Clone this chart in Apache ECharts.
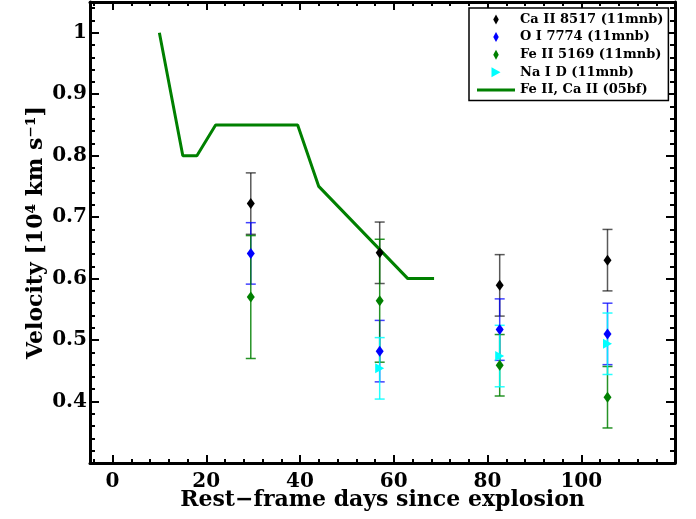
<!DOCTYPE html>
<html>
<head>
<meta charset="utf-8">
<script src="https://cdn.jsdelivr.net/npm/echarts@6/dist/echarts.min.js"></script>
<style>
html,body{margin:0;padding:0;background:#fff}
#chart{width:696px;height:519px}
</style>
</head>
<body>
<div id="chart"></div>
<script>
// epochs (rest-frame days) and velocities in 10^4 km/s
var days = [29.5, 57, 82.6, 105.6];
var caVel = [0.722, 0.642, 0.589, 0.630];
var caErr = [0.05, 0.05, 0.05, 0.05];
var oVel = [0.641, 0.482, 0.517, 0.510];
var oErr = [0.05, 0.05, 0.05, 0.05];
var feVel = [0.570, 0.564, 0.459, 0.407];
var feErr = [0.10, 0.10, 0.05, 0.05];
var naDays = [57, 82.6, 105.6];
var naVel = [0.454, 0.474, 0.494];
var naErr = [0.05, 0.05, 0.05];
// 05bf comparison curve
var bfDays = [10, 15, 18, 22, 39.5, 44, 63, 68.6];
var bfVel = [1.0, 0.8, 0.8, 0.85, 0.85, 0.75, 0.6, 0.6];
// ticks
var xMajor = [0, 20, 40, 60, 80, 100];
var xMinor = [-4, 4, 8, 12, 16, 24, 28, 32, 36, 44, 48, 52, 56, 64, 68, 72, 76, 84, 88, 92, 96, 104, 108, 112, 116];

var FONT = 'DejaVu Serif';
var diamondIcon = 'path://M0,-10L5.5,0L0,10L-5.5,0Z';
var triIcon = 'path://M0,0L9,5L0,10Z';
var lineIcon = 'path://M0,0H38V3H0Z';
var GRID = { left: 90, right: 21, top: 2, bottom: 56, outerBoundsMode: 'none' };

function pairs(xs, ys) {
  return xs.map(function (x, i) { return [x, ys[i]]; });
}

function errorBars(name, xs, vs, es, color) {
  return {
    type: 'custom',
    name: name,
    silent: true,
    z: 2,
    data: xs.map(function (x, i) { return [x, vs[i] - es[i], vs[i] + es[i]]; }),
    encode: { x: 0, y: [1, 2] },
    renderItem: function (params, api) {
      var lo = api.coord([api.value(0), api.value(1)]);
      var hi = api.coord([api.value(0), api.value(2)]);
      var w = 5;
      var st = { stroke: color, lineWidth: 1.5 };
      return {
        type: 'group',
        children: [
          { type: 'line', shape: { x1: hi[0], y1: hi[1], x2: lo[0], y2: lo[1] }, style: st },
          { type: 'line', shape: { x1: hi[0] - w, y1: hi[1], x2: hi[0] + w, y2: hi[1] }, style: st },
          { type: 'line', shape: { x1: lo[0] - w, y1: lo[1], x2: lo[0] + w, y2: lo[1] }, style: st }
        ]
      };
    }
  };
}

function blank() { return ''; }

function xAx(pos, ticks, len, show, grid) {
  return {
    type: 'value', position: pos, min: -4.8, max: 120, gridIndex: grid,
    axisLine: { show: show, onZero: false, lineStyle: { color: '#000', width: 3 } },
    axisTick: { show: true, inside: true, length: len, customValues: ticks, lineStyle: { color: '#000', width: 2 } },
    axisLabel: { show: true, customValues: ticks, formatter: blank },
    splitLine: { show: false }
  };
}

function yAx(pos) {
  return {
    type: 'value', position: pos, min: 0.3, max: 1.05, interval: 0.1,
    axisLine: { show: true, onZero: false, lineStyle: { color: '#000', width: 3 } },
    axisTick: { show: true, inside: true, length: 9, lineStyle: { color: '#000', width: 2 } },
    minorTick: { show: true, splitNumber: 5, length: 5, lineStyle: { color: '#000', width: 2 } },
    axisLabel: { show: true, formatter: blank, showMinLabel: false, showMaxLabel: false },
    splitLine: { show: false }
  };
}

var xMain = xAx('bottom', xMajor, 8, true, 0);
xMain.axisLabel = {
  show: true, customValues: xMajor, margin: 9,
  color: '#000', fontFamily: FONT, fontWeight: 'bold', fontSize: 20
};
xMain.name = 'Rest\u2212frame days since explosion';
xMain.nameLocation = 'middle';
xMain.nameGap = 26;
xMain.nameMoveOverlap = false;
xMain.nameTextStyle = { color: '#000', fontFamily: FONT, fontWeight: 'bold', fontSize: 22 };

var yMain = yAx('left');
yMain.axisLabel = {
  show: true, margin: 3, showMinLabel: false, showMaxLabel: false,
  formatter: function (v) { return Math.round(v * 10) / 10 + ''; },
  color: '#000', fontFamily: FONT, fontWeight: 'bold', fontSize: 20
};
yMain.name = 'Velocity [10\u2074 km s\u207B\u00B9]';
yMain.nameLocation = 'middle';
yMain.nameGap = 43;
yMain.nameMoveOverlap = false;
yMain.nameTextStyle = { color: '#000', fontFamily: FONT, fontWeight: 'bold', fontSize: 22 };

var yHidden = { type: 'value', gridIndex: 1, min: 0.3, max: 1.05, show: false };

var chart = echarts.init(document.getElementById('chart'));
var option = {
  animation: false,
  backgroundColor: '#fff',
  grid: [GRID, GRID],
  xAxis: [
    xMain,
    xAx('top', xMajor, 8, true, 0),
    xAx('bottom', xMinor, 4, false, 1),
    xAx('top', xMinor, 4, false, 1)
  ],
  yAxis: [yMain, yAx('right'), yHidden],
  legend: {
    orient: 'vertical',
    left: 469, top: 8,
    padding: [5, 5, 4, 8],
    itemWidth: 38, itemHeight: 10, itemGap: 4.6,
    backgroundColor: '#fff',
    borderColor: '#000', borderWidth: 1.5, borderRadius: 0,
    textStyle: { color: '#000', fontFamily: FONT, fontWeight: 'bold', fontSize: 13 },
    data: [
      { name: 'Ca II 8517 (11mnb)', icon: diamondIcon },
      { name: 'O I 7774 (11mnb)', icon: diamondIcon },
      { name: 'Fe II 5169 (11mnb)', icon: diamondIcon },
      { name: 'Na I D (11mnb)', icon: triIcon },
      { name: 'Fe II, Ca II (05bf)', icon: lineIcon }
    ]
  },
  series: [
    errorBars('caErr', days, caVel, caErr, 'rgba(0,0,0,0.65)'),
    errorBars('oErr', days, oVel, oErr, 'rgba(0,0,255,0.75)'),
    errorBars('feErr', days, feVel, feErr, 'rgba(0,128,0,0.85)'),
    errorBars('naErr', naDays, naVel, naErr, 'rgba(0,255,255,0.85)'),
    {
      name: 'Fe II, Ca II (05bf)', type: 'line', z: 3,
      data: pairs(bfDays, bfVel), symbol: 'none',
      lineStyle: { color: '#008000', width: 3 }, itemStyle: { color: '#008000' }
    },
    {
      name: 'Ca II 8517 (11mnb)', type: 'scatter', z: 4,
      data: pairs(days, caVel), symbol: 'diamond', symbolSize: [8, 11],
      itemStyle: { color: '#000', opacity: 1 }
    },
    {
      name: 'O I 7774 (11mnb)', type: 'scatter', z: 4,
      data: pairs(days, oVel), symbol: 'diamond', symbolSize: [8, 11],
      itemStyle: { color: '#0000ff', opacity: 1 }
    },
    {
      name: 'Fe II 5169 (11mnb)', type: 'scatter', z: 4,
      data: pairs(days, feVel), symbol: 'diamond', symbolSize: [8, 11],
      itemStyle: { color: '#008000', opacity: 1 }
    },
    {
      name: 'Na I D (11mnb)', type: 'scatter', z: 4,
      data: pairs(naDays, naVel), symbol: triIcon, symbolSize: [9, 10],
      itemStyle: { color: '#00ffff', opacity: 1 }
    }
  ]
};
chart.setOption(option);
</script>
</body>
</html>
